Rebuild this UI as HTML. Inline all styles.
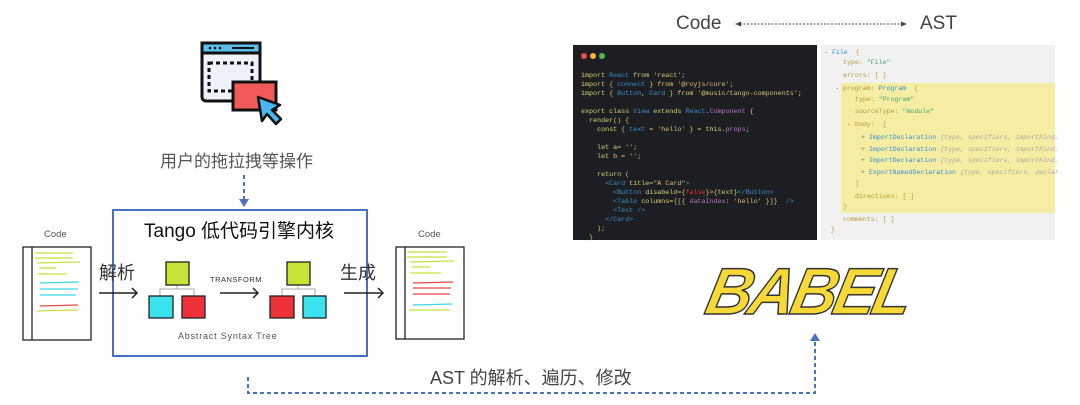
<!DOCTYPE html>
<html><head><meta charset="utf-8">
<style>
body{margin:0;width:1080px;height:405px;background:#fff;position:relative;overflow:hidden;font-family:"Liberation Sans","Noto Sans CJK SC",sans-serif}
.a{position:absolute;white-space:nowrap}
.code{position:absolute;left:573px;top:45px;width:244px;height:195px;background:#1d1e21;font-family:"Liberation Mono",monospace;font-size:6.7px;line-height:9px;color:#d8d27a}
.code pre{margin:0;position:absolute;left:8px;top:27px;font:inherit}
.ast{position:absolute;left:821px;top:45px;width:234px;height:195px;background:#f1f1f1;font-family:"Liberation Mono",monospace;font-size:6.6px;color:#b09a3a}
.ast .hl{position:absolute;left:20px;top:38px;width:214px;height:130px;background:#f5eda2}
.ast div.l{position:absolute;white-space:pre}
.b{color:#3a8fd0}.g{color:#45a36b}.r{color:#e33}.i{color:#aaa;font-style:italic}.p{color:#b877c8}.s{color:#d6c37a}
</style></head><body>
<svg width="1080" height="405" style="position:absolute;left:0;top:0">
<rect x="202" y="43" width="58" height="58" rx="4" fill="#eef2fa" stroke="#111" stroke-width="3"/>
<rect x="202" y="43" width="58" height="10" fill="#5bc0f0" stroke="#111" stroke-width="3"/>
<circle cx="210" cy="48" r="1.3" fill="#111"/><circle cx="215" cy="48" r="1.3" fill="#111"/><circle cx="220" cy="48" r="1.3" fill="#111"/>
<line x1="232" y1="48" x2="254" y2="48" stroke="#111" stroke-width="2"/>
<rect x="209" y="63" width="43" height="28" fill="none" stroke="#111" stroke-width="3" stroke-dasharray="4 3"/>
<rect x="233" y="82" width="43" height="28" fill="#f25a5a" stroke="#111" stroke-width="3"/>
<path d="M258 97 L262 121 L267 114 L276 124 L281 119 L272 110 L280 105 Z" fill="#49b8f0" stroke="#111" stroke-width="2.5" stroke-linejoin="round"/>
<line x1="244" y1="175" x2="244" y2="199" stroke="#4a72c4" stroke-width="2" stroke-dasharray="4 3"/>
<path d="M239 199 L249 199 L244 207 Z" fill="#4a72c4"/>
<rect x="113" y="210" width="254" height="146" fill="none" stroke="#4a72c4" stroke-width="2"/>
<g stroke="#222" stroke-width="1.3" fill="#fff">
<rect x="23" y="247" width="68" height="93"/><line x1="32" y1="247" x2="32" y2="340"/>
<rect x="396" y="247" width="68" height="92"/><line x1="405" y1="247" x2="405" y2="339"/>
</g>
<g stroke-width="1.3">
<line x1="35" y1="253" x2="73" y2="253" stroke="#c8e23c"/><line x1="35" y1="258" x2="73" y2="258" stroke="#c8e23c"/><line x1="37" y1="263" x2="80" y2="262" stroke="#c8e23c"/><line x1="39" y1="268" x2="56" y2="268" stroke="#c8e23c"/><line x1="37" y1="274" x2="67" y2="274" stroke="#c8e23c"/>
<line x1="40" y1="283" x2="79" y2="282" stroke="#3ad6e8"/><line x1="40" y1="289" x2="78" y2="289" stroke="#3ad6e8"/><line x1="40" y1="295" x2="76" y2="295" stroke="#3ad6e8"/>
<line x1="40" y1="306" x2="78" y2="305" stroke="#ee4444"/><line x1="37" y1="311" x2="78" y2="310" stroke="#c8e23c"/>
<line x1="407" y1="252" x2="447" y2="252" stroke="#c8e23c"/><line x1="407" y1="257" x2="447" y2="257" stroke="#c8e23c"/><line x1="410" y1="262" x2="454" y2="261" stroke="#c8e23c"/><line x1="412" y1="267" x2="430" y2="267" stroke="#c8e23c"/><line x1="410" y1="273" x2="441" y2="273" stroke="#c8e23c"/>
<line x1="413" y1="283" x2="453" y2="282" stroke="#ee4444"/><line x1="413" y1="288" x2="451" y2="288" stroke="#ee4444"/><line x1="413" y1="294" x2="450" y2="294" stroke="#ee4444"/>
<line x1="413" y1="305" x2="452" y2="304" stroke="#3ad6e8"/><line x1="409" y1="310" x2="450" y2="310" stroke="#c8e23c"/>
</g>
<g stroke="#222" stroke-width="1.5" fill="none">
<path d="M99 293 H137 M132 288 L137 293 L132 298"/>
<path d="M220 293 H258 M253 288 L258 293 L253 298"/>
<path d="M344 293 H383 M378 288 L383 293 L378 298"/>
</g>
<g stroke="#aaa" stroke-width="1" fill="none">
<path d="M177 285 V289 M160 296 V289 H194 V296"/>
<path d="M298 285 V289 M282 296 V289 H315 V296"/>
</g>
<g stroke="#222" stroke-width="1.3">
<rect x="166" y="262" width="23" height="23" fill="#c6e436"/>
<rect x="149" y="296" width="24" height="22" fill="#3ae2ee"/>
<rect x="182" y="296" width="23" height="22" fill="#ee3038"/>
<rect x="287" y="262" width="23" height="23" fill="#c6e436"/>
<rect x="270" y="296" width="24" height="22" fill="#ee3038"/>
<rect x="303" y="296" width="23" height="22" fill="#3ae2ee"/>
</g>
<path d="M248 377 V393 H815 V340" fill="none" stroke="#4a72c4" stroke-width="2" stroke-dasharray="4 3"/>
<path d="M810 341 L820 341 L815 333 Z" fill="#4a72c4"/>
<line x1="740" y1="24" x2="902" y2="24" stroke="#444" stroke-width="1" stroke-dasharray="2 1.5"/>
<path d="M735 24 L741 21.5 L741 26.5 Z M907 24 L901 21.5 L901 26.5 Z" fill="#444"/>
</svg>

<div class="a" style="left:160px;top:147px;font-size:17px;color:#555">用户的拖拉拽等操作</div>
<div class="a" style="left:144px;top:216px;font-size:19px;color:#111">Tango 低代码引擎内核</div>
<div class="a" style="left:44px;top:229px;font-size:9.5px;color:#555">Code</div>
<div class="a" style="left:418px;top:229px;font-size:9.5px;color:#555">Code</div>
<div class="a" style="left:99px;top:259px;font-size:18px;color:#333">解析</div>
<div class="a" style="left:340px;top:259px;font-size:18px;color:#333">生成</div>
<div class="a" style="left:210px;top:275px;font-size:7.5px;color:#333;letter-spacing:0.5px">TRANSFORM</div>
<div class="a" style="left:178px;top:331px;font-size:9px;color:#555;letter-spacing:0.8px">Abstract Syntax Tree</div>
<div class="a" style="left:430px;top:364px;font-size:18px;color:#444">AST 的解析、遍历、修改</div>
<div class="a" style="left:676px;top:13px;font-size:19px;color:#444">Code</div>
<div class="a" style="left:920px;top:13px;font-size:19px;color:#444">AST</div>

<div class="code">
<svg width="40" height="20" style="position:absolute;left:0;top:0"><circle cx="11" cy="11" r="3" fill="#ee4b4b"/><circle cx="20" cy="11" r="3" fill="#f5b22a"/><circle cx="29" cy="11" r="3" fill="#3cc04a"/></svg>
<pre>import <span class="b">React</span> from <span class="s">'react'</span>;
import { <span class="b">connect</span> } from <span class="s">'@royjs/core'</span>;
import { <span class="b">Button</span>, <span class="b">Card</span> } from <span class="s">'@music/tango-components'</span>;

export class <span class="b">View</span> extends <span class="b">React</span>.<span class="p">Component</span> {
  render() {
    const { <span class="b">text</span> = <span class="s">'hello'</span> } = this.<span class="p">props</span>;

    let a= <span class="s">''</span>;
    let b = <span class="s">''</span>;

    return (
      <span class="b">&lt;Card</span> title=<span class="s">"A Card"</span><span class="b">&gt;</span>
        <span class="b">&lt;Button</span> disabeld={<span class="r">false</span>}&gt;{text}<span class="b">&lt;/Button&gt;</span>
        <span class="b">&lt;Table</span> columns={[{ <span class="p">dataIndex</span>: <span class="s">'hello'</span> }]}  <span class="b">/&gt;</span>
        <span class="b">&lt;Test /&gt;</span>
      <span class="b">&lt;/Card&gt;</span>
    );
  }</pre>
</div>

<div class="ast">
<div class="hl"></div>
<div class="l" style="left:3px;top:4px"><span class="r">-</span> <span class="b">File</span>  {</div>
<div class="l" style="left:22px;top:14px">type: <span class="g">"File"</span></div>
<div class="l" style="left:22px;top:27px">errors: [ ]</div>
<div class="l" style="left:14px;top:40px"><span class="r">-</span> program: <span class="b">Program</span>  {</div>
<div class="l" style="left:34px;top:51px">type: <span class="g">"Program"</span></div>
<div class="l" style="left:34px;top:63px">sourceType: <span class="g">"module"</span></div>
<div class="l" style="left:26px;top:76px"><span class="r">-</span> body:  [</div>
<div class="l" style="left:40px;top:89px"><span class="g">+</span> <span class="b">ImportDeclaration</span> <span class="i">{type, specifiers, importKind,</span></div>
<div class="l" style="left:40px;top:101px"><span class="g">+</span> <span class="b">ImportDeclaration</span> <span class="i">{type, specifiers, importKind,</span></div>
<div class="l" style="left:40px;top:112px"><span class="g">+</span> <span class="b">ImportDeclaration</span> <span class="i">{type, specifiers, importKind,</span></div>
<div class="l" style="left:40px;top:124px"><span class="g">+</span> <span class="b">ExportNamedDeclaration</span> <span class="i">{type, specifiers, declar</span></div>
<div class="l" style="left:34px;top:135px">]</div>
<div class="l" style="left:34px;top:148px">directives: [ ]</div>
<div class="l" style="left:22px;top:158px">}</div>
<div class="l" style="left:22px;top:171px">comments: [ ]</div>
<div class="l" style="left:10px;top:181px">}</div>
</div>

<div class="a" style="left:716px;top:253px;font-size:66px;font-weight:bold;font-style:italic;color:#f6d936;letter-spacing:-4px;font-family:'Liberation Sans',sans-serif;transform:skewX(-12deg) scaleX(0.97);transform-origin:left top;-webkit-text-stroke:1.5px #333">BABEL</div>
</body></html>
